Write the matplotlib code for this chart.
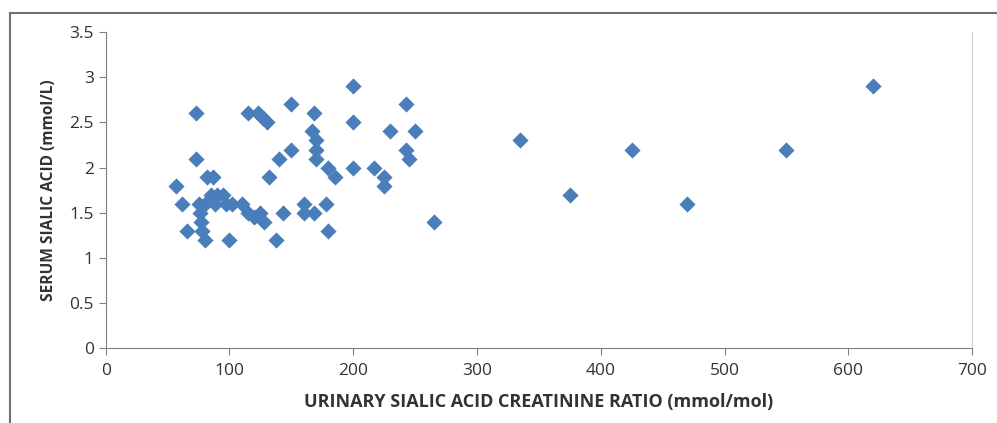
import matplotlib.pyplot as plt
from matplotlib.lines import Line2D

# urinary sialic acid / creatinine ratio (mmol/mol) vs serum sialic acid (mmol/L)
ratio = [57, 62, 66, 73, 73, 75, 76, 77, 78, 80, 80, 82, 85, 87, 88, 90, 95, 97,
         100, 102, 110, 115, 115, 120, 123, 125, 127, 128, 130, 132, 138, 140,
         143, 150, 150, 160, 160, 167, 168, 170, 170, 170, 168, 178, 180, 180,
         185, 200, 200, 200, 217, 225, 225, 230, 243, 243, 245, 250, 265,
         335, 375, 425, 470, 550, 620]
serum = [1.8, 1.6, 1.3, 2.6, 2.1, 1.6, 1.5, 1.4, 1.3, 1.2, 1.6, 1.9, 1.7, 1.9,
         1.6, 1.7, 1.7, 1.6, 1.2, 1.6, 1.6, 2.6, 1.5, 1.45, 2.6, 1.5, 2.55, 1.4,
         2.5, 1.9, 1.2, 2.1, 1.5, 2.7, 2.2, 1.6, 1.5, 2.4, 2.6, 2.3, 2.2, 2.1,
         1.5, 1.6, 1.3, 2.0, 1.9, 2.9, 2.5, 2.0, 2.0, 1.9, 1.8, 2.4, 2.7, 2.2,
         2.1, 2.4, 1.4, 2.3, 1.7, 2.2, 1.6, 2.2, 2.9]

xticks = [0, 100, 200, 300, 400, 500, 600, 700]
yticks = [0, 0.5, 1, 1.5, 2, 2.5, 3, 3.5]
ytick_labels = ["0", "0.5", "1", "1.5", "2", "2.5", "3", "3.5"]

plt.rcParams['font.family'] = ['Open Sans', 'DejaVu Sans']

fig = plt.figure(figsize=(9.97, 4.23), dpi=100)
ax = fig.add_axes([0.106, 0.177, 0.869, 0.747])

ax.scatter(ratio, serum, marker='D', s=68, color='#4a7ebb', linewidths=0, zorder=3)

ax.set_xlim(0, 700)
ax.set_ylim(0, 3.5)
ax.set_xticks(xticks)
ax.set_yticks(yticks)
ax.set_yticklabels(ytick_labels)
ax.tick_params(axis='both', direction='out', length=5, color='#808080',
               labelsize=12.5, labelcolor='#333333')
ax.tick_params(axis='x', pad=6)

for side in ['left', 'bottom']:
    ax.spines[side].set_color('#808080')
ax.spines['top'].set_visible(False)
ax.spines['right'].set_color('#d0d0d0')

ax.set_xlabel("URINARY SIALIC ACID CREATININE RATIO (mmol/mol)",
              fontsize=13, fontweight='bold', color='#333333', labelpad=10)
ax.set_ylabel("SERUM SIALIC ACID (mmol/L)",
              fontsize=11.2, fontweight='bold', color='#333333', labelpad=9)

# outer chart frame (top and left edges visible)
fig.add_artist(Line2D([0.010, 1.0], [0.969, 0.969], color='#707070', lw=1.5))
fig.add_artist(Line2D([0.010, 0.010], [0.0, 0.969], color='#707070', lw=1.5))

fig.savefig("out.png", dpi=100)
